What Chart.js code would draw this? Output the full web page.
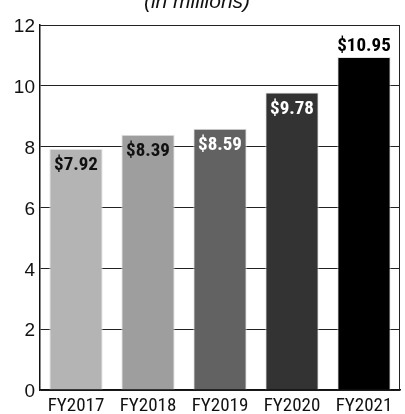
<!DOCTYPE html>
<html>
<head>
<meta charset="utf-8">
<script src="https://cdn.jsdelivr.net/npm/chart.js@4/dist/chart.umd.min.js"></script>
<style>
  html, body { margin: 0; padding: 0; background: #fff; }
  #wrap { width: 405px; height: 414px; }
</style>
</head>
<body>
<div id="wrap"><canvas id="barChart" width="405" height="414"></canvas></div>
<script>
// data
const years = ['FY2017', 'FY2018', 'FY2019', 'FY2020', 'FY2021'];
const revenue = [7.92, 8.39, 8.59, 9.78, 10.95];
const valueLabels = ['$7.92', '$8.39', '$8.59', '$9.78', '$10.95'];
const barColors = ['#b4b4b4', '#9e9e9e', '#626262', '#333333', '#000000'];
const labelColors = ['#111111', '#111111', '#ffffff', '#ffffff', '#000000'];
const yTicks = [0, 2, 4, 6, 8, 10, 12];

const condensed = '"Roboto Condensed", "DejaVu Sans Condensed", sans-serif';
const helv = '"Liberation Sans", Arial, sans-serif';

// value labels: inside the bar top, except the last one which sits above
const valueLabelPlugin = {
  id: 'valueLabels',
  afterDatasetsDraw(chart) {
    const ctx = chart.ctx;
    const meta = chart.getDatasetMeta(0);
    ctx.save();
    ctx.font = 'bold 19px ' + condensed;
    ctx.textAlign = 'center';
    ctx.textBaseline = 'alphabetic';
    meta.data.forEach((bar, i) => {
      ctx.fillStyle = labelColors[i];
      if (i === meta.data.length - 1) {
        ctx.fillText(valueLabels[i], bar.x, bar.y - 6);
      } else {
        ctx.fillText(valueLabels[i], bar.x, bar.y + 21);
      }
    });
    ctx.restore();
  }
};

// frame round the plot + clipped subtitle at the very top
const framePlugin = {
  id: 'frame',
  beforeDatasetsDraw(chart) {
    const { ctx, chartArea: a } = chart;
    ctx.save();
    ctx.strokeStyle = '#222';
    ctx.lineWidth = 1;
    ctx.beginPath();
    ctx.moveTo(a.left, a.top + 0.5);
    ctx.lineTo(a.right - 0.5, a.top + 0.5);
    ctx.lineTo(a.right - 0.5, a.bottom);
    ctx.stroke();
    ctx.restore();
  },
  afterDraw(chart) {
    const ctx = chart.ctx;
    ctx.save();
    ctx.font = 'italic 21px ' + helv;
    ctx.fillStyle = '#111';
    ctx.textAlign = 'center';
    ctx.textBaseline = 'alphabetic';
    ctx.fillText('(in millions)', 197, 8);
    ctx.restore();
  }
};

new Chart(document.getElementById('barChart').getContext('2d'), {
  type: 'bar',
  data: {
    labels: years,
    datasets: [{
      data: revenue,
      backgroundColor: barColors,
      borderColor: '#e2e2e2',
      borderWidth: 1,
      categoryPercentage: 1,
      barPercentage: 0.74
    }]
  },
  options: {
    responsive: false,
    animation: false,
    layout: { padding: { top: 25, right: 5, left: 0, bottom: 0 } },
    plugins: {
      legend: { display: false },
      title: { display: false },
      tooltip: { enabled: false }
    },
    scales: {
      x: {
        grid: { display: false },
        border: { display: true, color: '#111', width: 1.5 },
        ticks: {
          color: '#111',
          font: { family: condensed, size: 19 },
          padding: -3,
          maxRotation: 0
        },
        afterFit: (scale) => { scale.height = 24; }
      },
      y: {
        min: 0,
        max: 12,
        afterBuildTicks: (scale) => { scale.ticks = yTicks.map(v => ({ value: v })); },
        grid: { color: '#222', lineWidth: 1, drawTicks: false },
        border: { display: true, color: '#111', width: 1.5 },
        ticks: {
          color: '#111',
          font: { family: helv, size: 19 },
          padding: 5,
          labelOffset: 2
        },
        afterFit: (scale) => { scale.width = 40; }
      }
    }
  },
  plugins: [framePlugin, valueLabelPlugin]
});
</script>
</body>
</html>
